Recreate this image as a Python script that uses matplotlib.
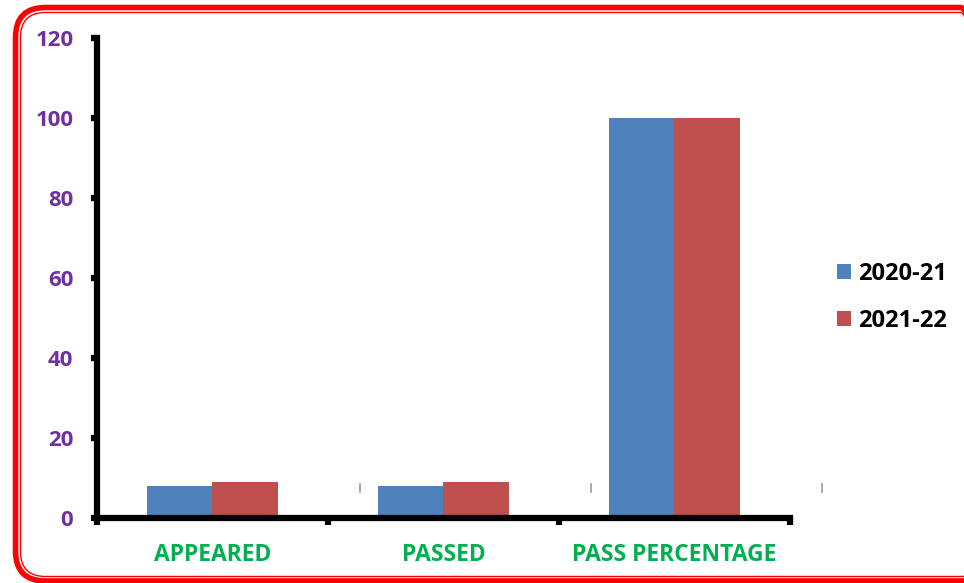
import numpy as np
import matplotlib.pyplot as plt
from matplotlib.patches import FancyBboxPatch
from matplotlib.transforms import IdentityTransform

# values
categories = ["APPEARED", "PASSED", "PASS PERCENTAGE"]
series_names = ["2020-21", "2021-22"]
vals_2020 = [8, 8, 100]
vals_2021 = [9, 9, 100]

plt.rcParams['font.family'] = ['Open Sans', 'DejaVu Sans']
plt.rcParams['font.weight'] = 'bold'

fig = plt.figure(figsize=(9.64, 5.83), dpi=100)
ax = fig.add_axes([0.1006, 0.1115, 0.7189, 0.8233])

x = np.arange(len(categories))
w = 0.283
ax.bar(x - w/2, vals_2020, w, color="#4F81BD", label=series_names[0], zorder=2)
ax.bar(x + w/2, vals_2021, w, color="#C0504D", label=series_names[1], zorder=2)

ax.set_xlim(-0.5, len(categories) - 0.5)
ax.set_ylim(0, 120)
ax.set_yticks(np.arange(0, 121, 20))

for s in ["top", "right"]:
    ax.spines[s].set_visible(False)
for s in ["left", "bottom"]:
    ax.spines[s].set_linewidth(4.5)
    ax.spines[s].set_color("black")

ax.tick_params(axis="y", length=4, width=4.5, color="black", labelsize=16,
               labelcolor="#7030A0", pad=13)
for t in ax.get_yticklabels():
    t.set_fontweight("bold")

# category labels between boundary ticks
ax.set_xticks(np.arange(-0.5, len(categories), 1))
ax.set_xticklabels([])
ax.tick_params(axis="x", length=5, width=4.5, color="black", direction="out")
for i, c in enumerate(categories):
    ax.text(i, -6.3, c, ha="center", va="top", color="#00B050",
            fontsize=16.5, fontweight="bold")

# little grey marks
for i in range(len(categories)):
    ax.plot([i + 0.64, i + 0.64], [6.5, 8.5], color="#999999", lw=1.2,
            clip_on=False, zorder=1)

leg = fig.legend(loc="center left", bbox_to_anchor=(0.858, 0.49), frameon=False,
                 fontsize=17, handlelength=0.6, handleheight=0.6,
                 handletextpad=0.3, labelspacing=1.0, borderaxespad=0)
for t in leg.get_texts():
    t.set_fontweight("bold")

# double red rounded border (pixel coords), right side runs off the canvas
outer = FancyBboxPatch((15.5, 2), 975, 573.5,
                       boxstyle="round,pad=0,rounding_size=30",
                       transform=IdentityTransform(), fill=False,
                       edgecolor="red", lw=4)
inner = FancyBboxPatch((20.5, 6.5), 965, 564,
                       boxstyle="round,pad=0,rounding_size=25",
                       transform=IdentityTransform(), fill=False,
                       edgecolor="red", lw=1)
fig.patches.extend([outer, inner])

fig.savefig("out.png", dpi=100)
